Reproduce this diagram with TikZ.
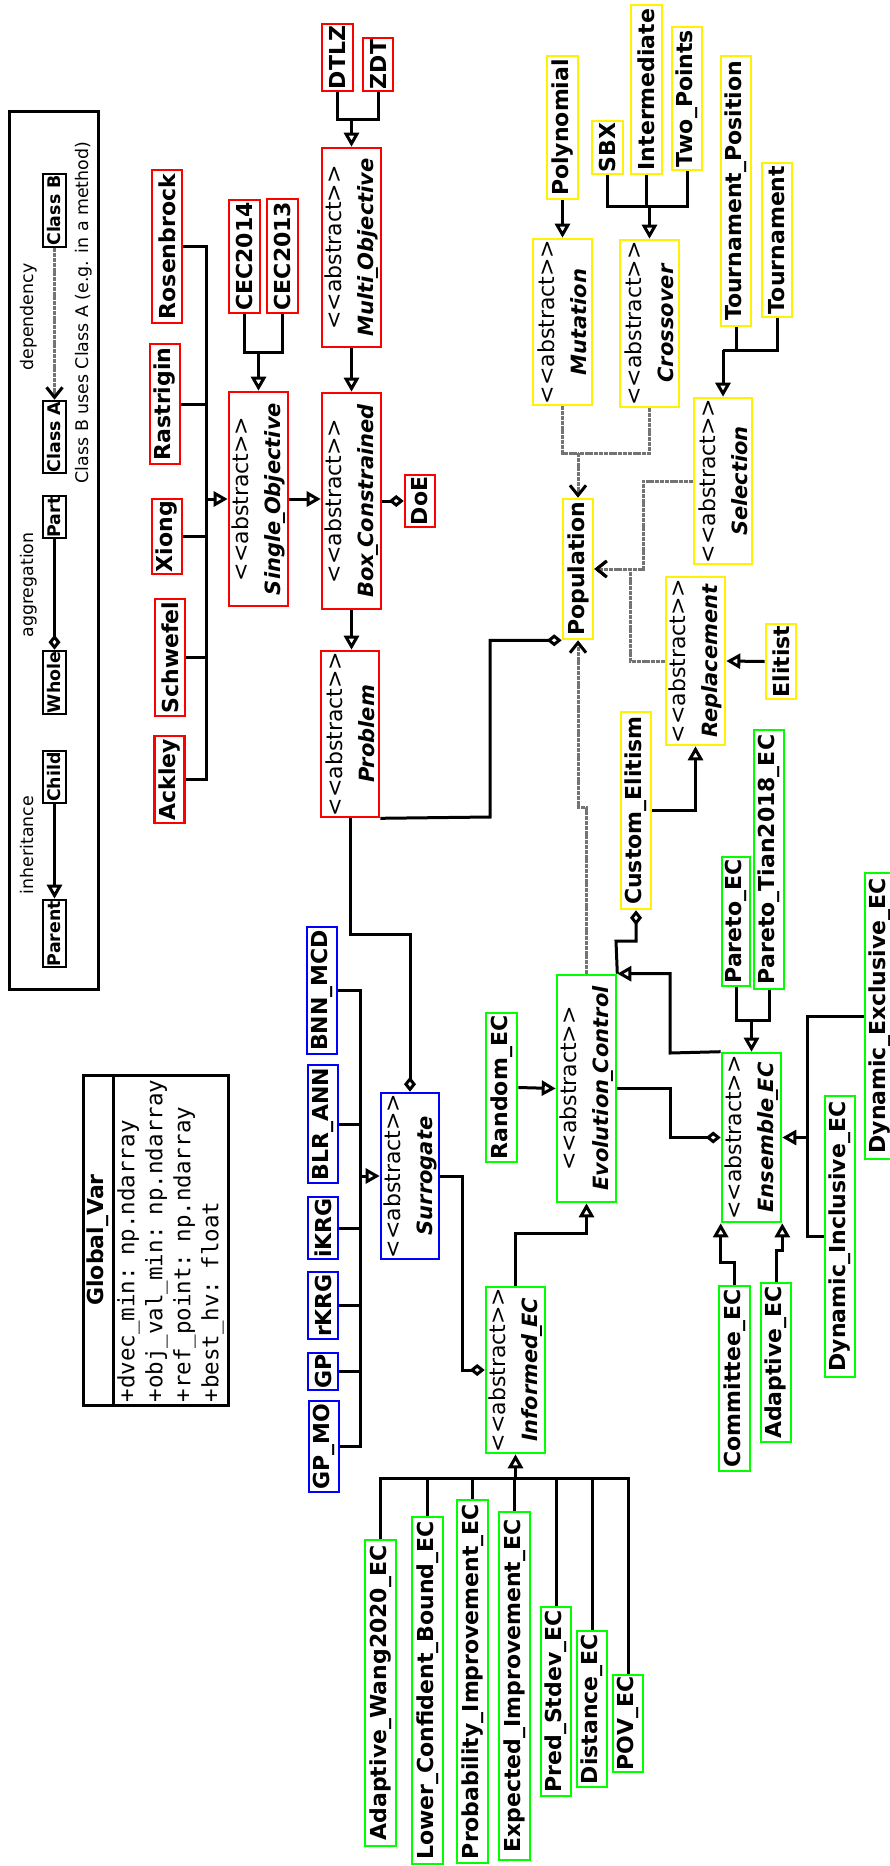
\documentclass[tikz,border=0pt]{standalone}
\usepackage{fontspec}
\setmainfont{DejaVu Sans}[Ligatures=TeXOff]
\setmonofont{DejaVu Sans Mono}[Ligatures=TeXOff]
\usetikzlibrary{arrows.meta}
\newcommand\us{\kern-0.1em\_\kern-0.1em}
\newcommand\absn[1]{{\mdseries <<abstract>>}\\{\fontsize{21}{32}\selectfont\itshape #1}}
\begin{document}
\begin{tikzpicture}[x=1pt,y=-1pt,
  cbox/.style={draw, line width=2.6pt, rotate=90, inner sep=0pt, align=center, font=\fontsize{22}{32}\selectfont\bfseries},
  rc/.style={cbox, draw=red},
  bc/.style={cbox, draw=blue},
  yc/.style={cbox, draw=yellow},
  gc/.style={cbox, draw=green},
  ln/.style={draw=black, line width=3pt},
  inh/.style={ln, -{Triangle[open, length=14pt, width=15pt]}},
  agg/.style={ln, -{Diamond[open, length=15pt, width=12pt]}},
  depl/.style={draw=gray!90!black, line width=3pt, dash pattern=on 4pt off 0.8pt},
  dep/.style={depl, -{Straight Barb[color=black, length=10pt, width=16pt, line width=3pt]}},
  lg/.style={draw, line width=2.6pt, rotate=90, inner sep=0pt, font=\fontsize{17.4}{20}\selectfont\bfseries},
  lgt/.style={rotate=90, anchor=base, inner sep=0pt, font=\fontsize{17.4}{20}\selectfont},
]
\useasboundingbox (0,0) rectangle (889,1866);

% ---------- legend ----------
\node[draw, line width=3pt, minimum width=88.5, minimum height=878, inner sep=0pt] (legend) at (53.75,550) {};
\node[lg, minimum width=67, minimum height=23] (parent) at (54.5,933.5) {Parent};
\node[lg, minimum width=52, minimum height=23] (child) at (54.5,777) {Child};
\node[lg, minimum width=63, minimum height=23] (whole) at (54.5,682.5) {Whole};
\node[lg, minimum width=42, minimum height=23] (part) at (54.5,517) {Part};
\node[lg, minimum width=72, minimum height=23] (classA) at (54.5,437) {Class A};
\node[lg, minimum width=73, minimum height=23] (classB) at (54.5,210.5) {Class B};
\node[lgt] (linh) at (33.5,845) {inheritance};
\node[lgt] (lagg) at (33.5,585) {aggregation};
\node[lgt] (ldep) at (33.5,317) {dependency};
\node[lgt] (ldesc) at (88.5,312.5) {Class B uses Class A (e.g. in a method)};
\draw[inh] (child.west) -- (parent.east);
\draw[agg] (part.west) -- (whole.east);
\draw[dep] (classB.west) -- (classA.east);

% ---------- global var ----------
\node[cbox, draw=black, line width=3pt, minimum width=330, minimum height=30] (gvh) at (98,1240) {Global\_Var};
\node[draw, line width=3pt, rotate=90, minimum width=330, minimum height=115, text width=325, inner xsep=2.5pt, inner ysep=0pt, align=left, font=\fontsize{22.5}{28}\selectfont\ttfamily] (gvb) at (170.5,1240) {+dvec\_min: np.ndarray\\+obj\_val\_min: np.ndarray\\+ref\_point: np.ndarray\\+best\_hv: float};

% ---------- problems (red) ----------
\node[rc, minimum width=153, minimum height=30] (rosen) at (167,246.5) {Rosenbrock};
\node[rc, minimum width=120, minimum height=30] (rastr) at (165,404) {Rastrigin};
\node[rc, minimum width=75, minimum height=30] (xiong) at (167,536.5) {Xiong};
\node[rc, minimum width=117, minimum height=30] (schwefel) at (170,657.5) {Schwefel};
\node[rc, minimum width=87, minimum height=30] (ackley) at (169.5,779.5) {Ackley};
\node[rc, minimum width=113, minimum height=31] (cec14) at (244.5,256.5) {CEC2014};
\node[rc, minimum width=114, minimum height=31] (cec13) at (282.5,256) {CEC2013};
\node[rc, minimum width=214, minimum height=59] (single) at (258.5,499) {\absn{Single\us Objective}};
\node[rc, minimum width=199, minimum height=59] (multi) at (351.5,247.5) {\absn{Multi\us Objective}};
\node[rc, minimum width=67, minimum height=31] (dtlz) at (337.5,57.5) {DTLZ};
\node[rc, minimum width=53, minimum height=30] (zdt) at (378,64.5) {ZDT};
\node[rc, minimum width=216, minimum height=59] (box) at (351.5,501) {\absn{Box\us Constrained}};
\node[rc, minimum width=52, minimum height=30] (doe) at (420,501) {DoE};
\node[rc, minimum width=166, minimum height=58] (problem) at (350,734) {\absn{Problem}};

% ---------- surrogates (blue) ----------
\node[bc, minimum width=127, minimum height=30] (bnn) at (322,990.5) {BNN\_MCD};
\node[bc, minimum width=118, minimum height=30] (blr) at (323,1124) {BLR\_ANN};
\node[bc, minimum width=62, minimum height=30] (ikrg) at (323,1228) {iKRG};
\node[bc, minimum width=67, minimum height=30] (rkrg) at (323,1305.5) {rKRG};
\node[bc, minimum width=37, minimum height=30] (gp) at (323,1371.5) {GP};
\node[bc, minimum width=91, minimum height=30] (gpmo) at (324,1446.5) {GP\_MO};
\node[bc, minimum width=166, minimum height=58] (surrogate) at (410,1176) {\absn{Surrogate}};

% ---------- operators (yellow) ----------
\node[yc, minimum width=143, minimum height=31] (poly) at (562.5,127.5) {Polynomial};
\node[yc, minimum width=53, minimum height=31] (sbx) at (607.5,147.5) {SBX};
\node[yc, minimum width=169, minimum height=31] (inter) at (646.5,89.5) {Intermediate};
\node[yc, minimum width=143, minimum height=30] (twop) at (687,98.5) {Two\_Points};
\node[yc, minimum width=270, minimum height=30] (tpos) at (736,191) {Tournament\_Position};
\node[yc, minimum width=154, minimum height=30] (tourn) at (777,240) {Tournament};
\node[yc, minimum width=166, minimum height=59] (mutation) at (562.5,322) {\absn{Mutation}};
\node[yc, minimum width=167, minimum height=59] (crossover) at (649.5,323.5) {\absn{Crossover}};
\node[yc, minimum width=166, minimum height=58] (selection) at (723,481) {\absn{Selection}};
\node[yc, minimum width=140, minimum height=30] (population) at (578,569) {Population};
\node[yc, minimum width=168, minimum height=59] (replacement) at (695.5,661) {\absn{Replacement}};
\node[yc, minimum width=75, minimum height=30] (elitist) at (781,661.5) {Elitist};
\node[yc, minimum width=197, minimum height=30] (customelit) at (636,810.5) {Custom\_Elitism};

% ---------- evolution control (green) ----------
\node[gc, minimum width=129, minimum height=28] (pareto) at (736,921.5) {Pareto\_EC};
\node[gc, minimum width=259, minimum height=30] (tian) at (769,859.5) {Pareto\_Tian2018\_EC};
\node[gc, minimum width=286, minimum height=30] (dynexcl) at (880,1016) {Dynamic\_Exclusive\_EC};
\node[gc, minimum width=149, minimum height=31] (random) at (501.5,1087.5) {Random\_EC};
\node[gc, minimum width=227, minimum height=59] (evol) at (586.5,1088.5) {\absn{Evolution\us Control}};
\node[gc, minimum width=169, minimum height=59] (ensemble) at (751.5,1137.5) {\absn{Ensemble\us EC}};
\node[gc, minimum width=281, minimum height=30] (dynincl) at (840,1236.5) {Dynamic\_Inclusive\_EC};
\node[gc, minimum width=166, minimum height=59] (informed) at (515.5,1370) {\absn{Informed\us EC}};
\node[gc, minimum width=185, minimum height=31] (committee) at (734.5,1378.5) {Committee\_EC};
\node[gc, minimum width=159, minimum height=30] (adaptive) at (776,1362.5) {Adaptive\_EC};
\node[gc, minimum width=306, minimum height=31] (wang) at (380.5,1693) {Adaptive\_Wang2020\_EC};
\node[gc, minimum width=347, minimum height=31] (lcb) at (427.5,1690.5) {Lower\_Confident\_Bound\_EC};
\node[gc, minimum width=363, minimum height=31] (probimp) at (472.5,1681.5) {Probability\_Improvement\_EC};
\node[gc, minimum width=348, minimum height=31] (expimp) at (514.5,1686) {Expected\_Improvement\_EC};
\node[gc, minimum width=189, minimum height=30] (predstd) at (556,1701.5) {Pred\_Stdev\_EC};
\node[gc, minimum width=156, minimum height=30] (distance) at (592,1709) {Distance\_EC};
\node[gc, minimum width=97, minimum height=30] (pov) at (628,1723.5) {POV\_EC};

% ---------- problem connectors ----------
\coordinate (pbus) at (206,499);
\draw[ln] (rosen.south) -| (pbus);
\draw[ln] (ackley.south) -| (pbus);
\draw[ln] (rastr.south) -- (rastr.south -| pbus);
\draw[ln] (xiong.south) -- (xiong.south -| pbus);
\draw[ln] (schwefel.south) -- (schwefel.south -| pbus);
\draw[inh] (pbus) -- (single.north);
\coordinate (cecJ) at (258.5,352);
\draw[ln] (cec14.west) |- (cecJ);
\draw[ln] (cec13.west) |- (cecJ);
\draw[inh] (cecJ) -- (single.east);
\draw[inh] (single.south) -- (single.south -| box.north);
\coordinate (moJ) at (351.5,119);
\draw[ln] (dtlz.west) |- (moJ);
\draw[ln] (zdt.west) |- (moJ);
\draw[inh] (moJ) -- (multi.east);
\draw[inh] (multi.west) -- (box.east);
\draw[agg] (box.south) -- (box.south -| doe.north);
\draw[inh] (box.west) -- (box.west |- problem.east);
\draw[agg] (problem.south west) -- (490,817) |- (population.north west);
\draw[agg] (problem.west) -- (350,934) -| (surrogate.east);

% ---------- surrogate connectors ----------
\coordinate (sJ) at (360,1176);
\draw[ln] (bnn.south) -| (sJ);
\draw[ln] (gpmo.south) -| (sJ);
\draw[ln] (blr.south) -- (blr.south -| sJ);
\draw[ln] (ikrg.south) -- (ikrg.south -| sJ);
\draw[ln] (rkrg.south) -- (rkrg.south -| sJ);
\draw[ln] (gp.south) -- (gp.south -| sJ);
\draw[inh] (sJ) -- (surrogate.north);
\draw[agg] (surrogate.south) -- (462,1176) |- (informed.north);

% ---------- operator connectors ----------
\draw[inh] (poly.west) -- (mutation.east);
\coordinate (xJ) at (649.5,206);
\draw[ln] (sbx.west) |- (xJ);
\draw[ln] (twop.west) |- (xJ);
\draw[ln] (inter.west) -- (inter.west |- xJ);
\draw[inh] (xJ) -- (crossover.east);
\coordinate (selJ) at (723,350);
\draw[ln] (tpos.west) |- (selJ);
\draw[ln] (tourn.west) |- (selJ);
\draw[inh] (selJ) -- (selection.east);
\coordinate (mcJ) at (578,453);
\draw[depl] (mutation.west) |- (mcJ);
\draw[depl] (crossover.west) |- (mcJ);
\draw[dep] (mcJ) -- (population.east);
\draw[dep] (selection.north) -- (643,481) |- (population.south);
\draw[dep] (replacement.north) -- (630,661) |- (population.south);
\draw[dep] (evol.east) -- (586.5,807) -| (population.west);
\draw[inh] (elitist.north) -- (replacement.south);
\draw[inh] (customelit.south) -| (replacement.west);

% ---------- evolution control connectors ----------
\draw[agg] (evol.south east) -- (616,941) -| (customelit.west);
\draw[inh] (ensemble.north east) -- (670,1053) |- (evol.south east);
\draw[agg] (evol.south) -- (670,1088.5) |- (ensemble.north);
\draw[inh] (random.south) -- (evol.north);
\coordinate (enJ) at (751.5,1020);
\draw[ln] (pareto.west) |- (enJ);
\draw[ln] (tian.west) |- (enJ);
\draw[inh] (enJ) -- (ensemble.east);
\coordinate (dynJ) at (807,1137.5);
\draw[ln] (dynexcl.north) -| (dynJ);
\draw[ln] (dynincl.north) -| (dynJ);
\draw[inh] (dynJ) -- (ensemble.south);
\draw[inh] (committee.east) -- (734.5,1262) -| (ensemble.north west);
\draw[inh] (adaptive.east) -- (776,1250) -| (ensemble.south west);
\draw[inh] (informed.east) -- (515.5,1233) -| (evol.west);
\coordinate (iJ) at (515.5,1478);
\draw[ln] (wang.east) |- (iJ);
\draw[ln] (pov.east) |- (iJ);
\draw[ln] (lcb.east) -- (lcb.east |- iJ);
\draw[ln] (probimp.east) -- (probimp.east |- iJ);
\draw[ln] (expimp.east) -- (expimp.east |- iJ);
\draw[ln] (predstd.east) -- (predstd.east |- iJ);
\draw[ln] (distance.east) -- (distance.east |- iJ);
\draw[inh] (iJ) -- (informed.west);
\end{tikzpicture}
\end{document}
